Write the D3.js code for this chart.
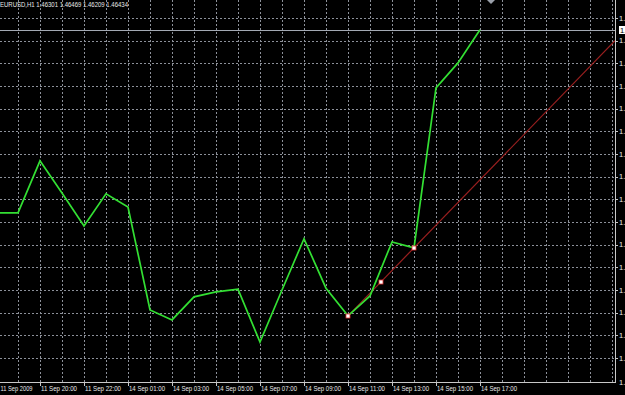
<!DOCTYPE html>
<html><head><meta charset="utf-8">
<script src="https://cdn.jsdelivr.net/npm/d3@7"></script>
<style>html,body{margin:0;padding:0;background:#000;}svg{display:block;}</style>
</head><body>
<svg id="c" width="625" height="395"></svg>
<script>
// ---- data ----
const symbolInfo = "EURUSD,H1  1.46301 1.46469 1.46209 1.46434";
const barTimes = ["11 Sep 18:00","11 Sep 19:00","11 Sep 20:00","11 Sep 21:00","11 Sep 22:00","11 Sep 23:00",
  "14 Sep 01:00","14 Sep 02:00","14 Sep 03:00","14 Sep 04:00","14 Sep 05:00","14 Sep 06:00","14 Sep 07:00",
  "14 Sep 08:00","14 Sep 09:00","14 Sep 10:00","14 Sep 11:00","14 Sep 12:00","14 Sep 13:00","14 Sep 14:00",
  "14 Sep 15:00","14 Sep 16:00","14 Sep 17:00"];
const closes = [1.46030,1.46030,1.46145,1.46074,1.46001,1.46072,1.46043,1.45816,1.45794,1.45845,1.45856,
  1.45862,1.45745,1.45860,1.45973,1.45864,1.45803,1.45847,1.45966,1.45953,1.46306,1.46361,1.46434];
const timeTickIdx = [0,2,4,6,8,10,12,14,16,18,20,22];
const timeTickLabels = ["11 Sep 2009","11 Sep 20:00","11 Sep 22:00","14 Sep 01:00","14 Sep 03:00","14 Sep 05:00",
  "14 Sep 07:00","14 Sep 09:00","14 Sep 11:00","14 Sep 13:00","14 Sep 15:00","14 Sep 17:00"];
const priceTicks = [1.4646,1.4641,1.4636,1.4631,1.4626,1.4621,1.4616,1.4611,1.4606,1.4601,1.4596,1.4591,1.4586,1.4581,1.4576,1.4571];
const bottomPrice = 1.4566;
const bidPrice = 1.46434;
const trendIdx = [16, 19];          // trendline anchors (bar index)
const trendPrice = [1.45803, 1.45953];

// ---- layout ----
const W = 625, H = 395, plotR = 615, plotB = 382;
const svg = d3.select("#c");
svg.append("rect").attr("width", W).attr("height", H).attr("fill", "#000");

const x = d3.scaleLinear().domain([0, 1]).range([-4, 18]);
const y = d3.scaleLinear().domain([1.4646, 1.4571]).range([18, 358]);
const nGrid = Math.floor(x.invert(plotR - 2));

svg.append("clipPath").attr("id", "clip").append("rect").attr("x", 0).attr("y", 0).attr("width", plotR).attr("height", plotB);
const plot = svg.append("g").attr("clip-path", "url(#clip)");
const gridColor = "#8c9099";

// vertical grid
plot.selectAll(".vg").data(d3.range(1, nGrid + 1)).join("line")
  .attr("x1", d => Math.round(x(d)) + 0.5).attr("x2", d => Math.round(x(d)) + 0.5)
  .attr("y1", 0).attr("y2", plotB)
  .attr("stroke", gridColor).attr("stroke-width", 1).attr("stroke-dasharray", "2,2");
// horizontal grid
plot.selectAll(".hg").data(priceTicks).join("line")
  .attr("x1", 0).attr("x2", plotR)
  .attr("y1", d => Math.round(y(d)) + 0.5).attr("y2", d => Math.round(y(d)) + 0.5)
  .attr("stroke", gridColor).attr("stroke-width", 1).attr("stroke-dasharray", "2,2");

// bid line
plot.append("line").attr("x1", 0).attr("x2", plotR)
  .attr("y1", Math.round(y(bidPrice)) + 0.5).attr("y2", Math.round(y(bidPrice)) + 0.5)
  .attr("stroke", "#a3a9b3").attr("stroke-width", 1);

// trendline (ray)
const slope = (trendPrice[1] - trendPrice[0]) / (trendIdx[1] - trendIdx[0]);
const endIdx = x.invert(plotR);
plot.append("line")
  .attr("x1", x(trendIdx[0])).attr("y1", y(trendPrice[0]))
  .attr("x2", x(endIdx)).attr("y2", y(trendPrice[0] + slope * (endIdx - trendIdx[0])))
  .attr("stroke", "#9a1f1f").attr("stroke-width", 1.2);

// price line
plot.append("path").datum(closes)
  .attr("d", d3.line().x((d, i) => x(i)).y(d => y(d)))
  .attr("fill", "none").attr("stroke", "#33e033").attr("stroke-width", 1.7).attr("stroke-linejoin", "miter");

// trendline handles
const midIdx = (trendIdx[0] + trendIdx[1]) / 2;
const handles = [[trendIdx[0], trendPrice[0]], [midIdx, trendPrice[0] + slope * (midIdx - trendIdx[0])], [trendIdx[1], trendPrice[1]]];
plot.selectAll(".h").data(handles).join("rect")
  .attr("x", d => Math.round(x(d[0])) - 2).attr("y", d => Math.round(y(d[1])) - 2)
  .attr("width", 4).attr("height", 4)
  .attr("fill", "#fff").attr("stroke", "#e03030").attr("stroke-width", 0.8);

// chart-shift marker
svg.append("path").attr("d", "M487,0 L495,0 L491,4 Z").attr("fill", "#9aa0aa");

// axes frame
svg.append("line").attr("x1", plotR + 0.5).attr("x2", plotR + 0.5).attr("y1", 0).attr("y2", plotB + 1)
  .attr("stroke", "#c8c8c8");
svg.append("line").attr("x1", 0).attr("x2", plotR + 1).attr("y1", plotB + 0.5).attr("y2", plotB + 0.5)
  .attr("stroke", "#c8c8c8");

const font = "'Liberation Sans', Arial, sans-serif";
// bottom time axis
const tg = svg.append("g");
tg.selectAll("line").data(timeTickIdx).join("line")
  .attr("x1", d => Math.round(x(d)) + 0.5).attr("x2", d => Math.round(x(d)) + 0.5)
  .attr("y1", plotB).attr("y2", plotB + 4).attr("stroke", "#c8c8c8");
tg.selectAll("text").data(timeTickIdx).join("text")
  .attr("x", d => Math.max(0.5, x(d) + 1)).attr("y", 391)
  .attr("textLength", (d, i) => i === 0 ? 32 : 36).attr("lengthAdjust", "spacingAndGlyphs")
  .attr("fill", "#e8e8e8").attr("font-family", font).attr("font-size", 7.5)
  .text((d, i) => timeTickLabels[i]);

// right price axis
const pg = svg.append("g");
const allPrices = priceTicks.concat([bottomPrice]);
pg.selectAll("line").data(priceTicks).join("line")
  .attr("x1", plotR).attr("x2", plotR + 3)
  .attr("y1", d => Math.round(y(d)) + 0.5).attr("y2", d => Math.round(y(d)) + 0.5).attr("stroke", "#c8c8c8");
pg.selectAll("text").data(allPrices).join("text")
  .attr("x", 619).attr("y", (d, i) => (i < priceTicks.length ? y(d) : plotB) + 2.8)
  .attr("fill", "#e8e8e8").attr("font-family", font).attr("font-size", 7.5)
  .text(d => d.toFixed(4));

// bid label
svg.append("rect").attr("x", 619).attr("y", Math.round(y(bidPrice)) - 4).attr("width", 8).attr("height", 8).attr("fill", "#fff");
svg.append("text").attr("x", 620).attr("y", y(bidPrice) + 3)
  .attr("fill", "#000").attr("font-family", font).attr("font-size", 7.5).text(bidPrice.toFixed(5));

// header
svg.append("text").attr("x", 0).attr("y", 7).attr("textLength", 128).attr("lengthAdjust", "spacingAndGlyphs")
  .attr("fill", "#e8e8e8").attr("font-family", font).attr("font-size", 7.5).text(symbolInfo);
</script>
</body></html>
